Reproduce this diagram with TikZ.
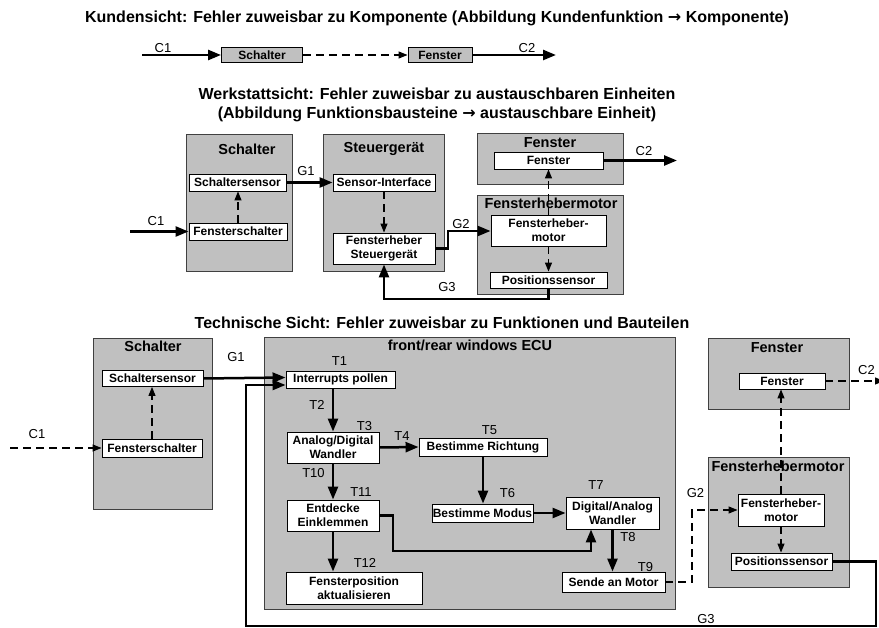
\documentclass[tikz,border=0pt]{standalone}
\usepackage{fontspec}
\setmainfont{Liberation Sans}
\newfontfamily\pfeilfont{DejaVu Sans}
\usetikzlibrary{arrows.meta,positioning}
\definecolor{grau}{RGB}{192,192,192}
\newcommand{\pfeil}{{\pfeilfont\bfseries →}}

\begin{document}
\begin{tikzpicture}[x=1pt, y=-1pt,
    gruppe/.style={rectangle, fill=grau, draw=black!75, line width=0.9pt, inner sep=0pt},
    punkt/.style={rectangle, fill=white, draw=black, line width=0.9pt, inner sep=0pt, align=center,
        font=\fontsize{12}{14}\selectfont\bfseries},
    %klein/.style={punkt, fill=grau},
    titel/.style={inner sep=0pt, font=\fontsize{14.5}{16}\selectfont\bfseries},
    kopf/.style={inner sep=0pt, align=center, font=\fontsize{16}{19}\selectfont\bfseries},
    marke/.style={inner sep=0pt, font=\fontsize{13}{15}\selectfont},
    fluss/.style={line width=2.5pt, -{Triangle[length=13pt,width=10pt]}},
    wirk/.style={line width=1.1pt, dash pattern=on 8pt off 5pt, -{Triangle[length=9pt,width=7pt]}},
    ]

\useasboundingbox (0,0) rectangle (879,628);

% --- Kundensicht ---
\node[kopf] (kopf-kunde) at (437,18) {Kundensicht: Fehler zuweisbar zu Komponente (Abbildung Kundenfunktion \pfeil{} Komponente)};
\node[punkt, fill=grau, minimum width=81, minimum height=15] (k-schalter) at (262,55) {Schalter};
\node[punkt, fill=grau, minimum width=64, minimum height=15] (k-fenster) at (440,55) {Fenster};
\coordinate (k-c1) at (142,55);
\coordinate (k-c2) at (556,55);
\draw[fluss] (k-c1) -- (k-schalter.west);
\draw[wirk] (k-schalter.east) -- (k-fenster.west);
\draw[fluss] (k-fenster.east) -- (k-c2);
\node[marke] (k-lbl-c1) at (163,48) {C1};
\node[marke] (k-lbl-c2) at (527,48) {C2};

% --- Werkstattsicht ---
\node[kopf] (kopf-werkstatt) at (437,105) {Werkstattsicht: Fehler zuweisbar zu austauschbaren Einheiten\\
    (Abbildung Funktionsbausteine \pfeil{} austauschbare Einheit)};

\node[gruppe, minimum width=106, minimum height=137] (w-schalter) at (239,202.5) {};
\node[gruppe, minimum width=121, minimum height=137] (w-steuergeraet) at (383.5,202.5) {};
\node[gruppe, minimum width=146, minimum height=51] (w-fenster) at (550,158.5) {};
\node[gruppe, minimum width=146, minimum height=99] (w-motor) at (550,244.5) {};
\node[titel] (w-schalter-titel) at (247,149) {Schalter};
\node[titel] (w-steuergeraet-titel) at (384,149) {Steuergerät};
\node[titel] (w-fenster-titel) at (550,143) {Fenster};
\node[titel] (w-motor-titel) at (551,203) {Fensterhebermotor};

\node[punkt, minimum width=97, minimum height=17] (w-schaltersensor) at (237.5,182.5) {Schaltersensor};
\node[punkt, minimum width=98, minimum height=17] (w-fensterschalter) at (238,231.5) {Fensterschalter};
\node[punkt, minimum width=102, minimum height=17] (w-sensor-interface) at (384,182.5) {Sensor-Interface};
\node[punkt, minimum width=102, minimum height=31] (w-fh-steuergeraet) at (384,248.5) {Fensterheber\\Steuergerät};
\node[punkt, minimum width=109, minimum height=17] (w-fenster-innen) at (548.5,160.5) {Fenster};
\node[punkt, minimum width=115, minimum height=31] (w-fh-motor) at (548.5,230.5) {Fensterheber-\\motor};
\node[punkt, minimum width=117, minimum height=16] (w-positionssensor) at (548.5,280) {Positionssensor};

\coordinate (w-c1) at (130,231.5);
\coordinate (w-c2) at (677,160.5);
\coordinate (w-g2) at (448,231);
\coordinate (w-g3) at (548.5,299);
\draw[fluss] (w-c1) -- (w-fensterschalter.west);
\draw[wirk] (w-fensterschalter.north) -- (w-fensterschalter.north |- w-schaltersensor.south);
\draw[fluss] (w-schaltersensor.east) -- (w-sensor-interface.west);
\draw[wirk] (w-sensor-interface.south) -- (w-fh-steuergeraet.north);
\draw[fluss] (w-fh-steuergeraet.east) -| (w-g2) -- (w-g2 -| w-fh-motor.west);
\draw[fluss] (w-positionssensor.south) -- (w-g3) -| (w-fh-steuergeraet.south);
\draw[wirk] (w-fh-motor.south) -- (w-positionssensor.north);
\draw[wirk] (w-fh-motor.north) -- (w-fenster-innen.south);
\draw[fluss] (w-fenster-innen.east) -- (w-c2);
\node[marke] (w-lbl-c1) at (156,221.5) {C1};
\node[marke] (w-lbl-g1) at (306,171) {G1};
\node[marke] (w-lbl-g2) at (461,224) {G2};
\node[marke] (w-lbl-g3) at (447,287.5) {G3};
\node[marke] (w-lbl-c2) at (644,151) {C2};

% --- Technische Sicht ---
\node[kopf] (kopf-technik) at (442,323) {Technische Sicht: Fehler zuweisbar zu Funktionen und Bauteilen};

\node[gruppe, minimum width=119, minimum height=171] (t-schalter) at (152.5,423.5) {};
\node[gruppe, minimum width=411, minimum height=272] (t-ecu) at (469.5,473) {};
\node[gruppe, minimum width=141, minimum height=71] (t-fenster) at (778.5,373.5) {};
\node[gruppe, minimum width=141, minimum height=130] (t-motor) at (778.5,522) {};
\node[titel] (t-schalter-titel) at (153,346) {Schalter};
\node[titel] (t-ecu-titel) at (470,345) {front/rear windows ECU};
\node[titel] (t-fenster-titel) at (777,348) {Fenster};
\node[titel] (t-motor-titel) at (778,466) {Fensterhebermotor};

\node[punkt, minimum width=101, minimum height=16] (t-schaltersensor) at (152.5,378.5) {Schaltersensor};
\node[punkt, minimum width=100, minimum height=18] (t-fensterschalter) at (152,448) {Fensterschalter};
\node[punkt, minimum width=109, minimum height=17] (t-interrupts) at (340.5,379.5) {Interrupts pollen};
\node[punkt, minimum width=92, minimum height=31] (t-ad-wandler) at (333,447.5) {Analog/Digital\\Wandler};
\node[punkt, minimum width=128, minimum height=18] (t-richtung) at (483,447) {Bestimme Richtung};
\node[punkt, minimum width=101, minimum height=18] (t-modus) at (482.5,513) {Bestimme Modus};
\node[punkt, minimum width=93, minimum height=32] (t-da-wandler) at (612.5,513) {Digital/Analog\\Wandler};
\node[punkt, minimum width=103, minimum height=20] (t-sende) at (613.5,582) {Sende an Motor};
\node[punkt, minimum width=92, minimum height=31] (t-einklemmen) at (333,515.5) {Entdecke\\Einklemmen};
\node[punkt, minimum width=136, minimum height=32] (t-fensterposition) at (354,588) {Fensterposition\\aktualisieren};
\node[punkt, minimum width=86, minimum height=16] (t-fenster-innen) at (782,381) {Fenster};
\node[punkt, minimum width=86, minimum height=32] (t-fh-motor) at (781,510) {Fensterheber-\\motor};
\node[punkt, minimum width=101, minimum height=17] (t-positionssensor) at (781.5,561.5) {Positionssensor};

\coordinate (t-c1) at (10,448);
\coordinate (t-c2) at (884,381);
\coordinate (t-knick) at (393,551);
\coordinate (t-g2) at (692,510);
\coordinate (t-g3-rechts) at (876,626);
\coordinate (t-g3-links) at (246,626);

% Schalter und Eingang
\draw[wirk] (t-c1) -- (t-fensterschalter.west);
\draw[wirk] (t-fensterschalter.north) -- (t-fensterschalter.north |- t-schaltersensor.south);
\draw[fluss] (t-schaltersensor.east) -- ([yshift=2pt]t-interrupts.west);

% Funktionsketten im Steuergeraet
\draw[fluss] (t-ad-wandler.north |- t-interrupts.south) -- (t-ad-wandler.north);
\draw[fluss] (t-ad-wandler.east) -- (t-richtung.west);
\draw[fluss] (t-richtung.south) -- (t-richtung.south |- t-modus.north);
\draw[fluss] (t-modus.east) -- (t-da-wandler.west);
\draw[fluss] (t-da-wandler.south) -- (t-da-wandler.south |- t-sende.north);
\draw[fluss] (t-ad-wandler.south) -- (t-einklemmen.north);
\draw[fluss] (t-einklemmen.east) -| (t-knick) -| ([xshift=-21.5pt]t-da-wandler.south);
\draw[fluss] (t-einklemmen.south) -- (t-einklemmen.south |- t-fensterposition.north);

% Motor, Fenster und Rueckfuehrung
\draw[wirk] (t-sende.east) -| (t-g2) -- (t-fh-motor.west);
\draw[wirk] (t-fh-motor.south) -- (t-fh-motor.south |- t-positionssensor.north);
\draw[wirk] (t-fh-motor.north) -- (t-fh-motor.north |- t-fenster-innen.south);
\draw[wirk] (t-fenster-innen.east) -- (t-c2);
\draw[fluss] (t-positionssensor.east) -| (t-g3-rechts) -- (t-g3-links) |- ([yshift=-5.5pt]t-interrupts.west);

\node[marke] (t-lbl-c1) at (37,434) {C1};
\node[marke] (t-lbl-g1) at (236,357.5) {G1};
\node[marke] (t-lbl-t1) at (339.5,361.5) {T1};
\node[marke] (t-lbl-t2) at (317,404.5) {T2};
\node[marke] (t-lbl-t3) at (364.5,426) {T3};
\node[marke] (t-lbl-t4) at (402,436.5) {T4};
\node[marke] (t-lbl-t5) at (489.5,430.5) {T5};
\node[marke] (t-lbl-t6) at (507.5,493.5) {T6};
\node[marke] (t-lbl-t7) at (596,485) {T7};
\node[marke] (t-lbl-t8) at (628,537) {T8};
\node[marke] (t-lbl-t9) at (645.5,567) {T9};
\node[marke] (t-lbl-t10) at (313.5,473.5) {T10};
\node[marke] (t-lbl-t11) at (361,492.5) {T11};
\node[marke] (t-lbl-t12) at (365,563) {T12};
\node[marke] (t-lbl-g2) at (695.5,493) {G2};
\node[marke] (t-lbl-c2) at (866.5,370) {C2};
\node[marke] (t-lbl-g3) at (706,619) {G3};

\end{tikzpicture}
\end{document}
